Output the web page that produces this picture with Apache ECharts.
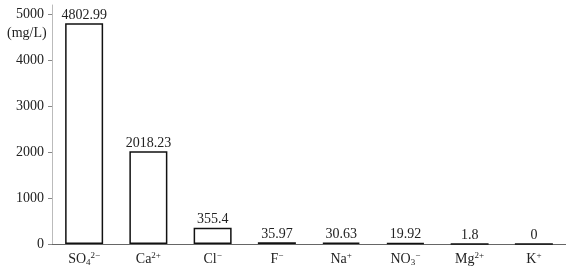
<!DOCTYPE html>
<html><head><meta charset="utf-8">
<script src="https://cdn.jsdelivr.net/npm/echarts@6/dist/echarts.min.js"></script>
<style>html,body{margin:0;padding:0;background:#fff}#c{width:566px;height:270px}</style>
</head><body><div id="c"></div>
<script>
var categories = ['SO4', 'Ca', 'Cl', 'F', 'Na', 'NO3', 'Mg', 'K'];
var categoryLabels = ['SO{sub|4}{sup|2−}', 'Ca{sup|2+}', 'Cl{sup|−}', 'F{sup|−}', 'Na{sup|+}', 'NO{sub|3}{sup|−}', 'Mg{sup|2+}', 'K{sup|+}'];
var values = [4802.99, 2018.23, 355.4, 35.97, 30.63, 19.92, 1.8, 0];
var valueLabels = ['4802.99', '2018.23', '355.4', '35.97', '30.63', '19.92', '1.8', '0'];
var yTicks = [0, 1000, 2000, 3000, 4000, 5000];

var font = '"Liberation Serif", "DejaVu Serif", serif';
var chart = echarts.init(document.getElementById('c'));
chart.setOption({
  animation: false,
  grid: { left: 52, right: 0, top: 5, bottom: 26 },
  graphic: [{ type: 'text', left: 7, top: 26, style: { text: '(mg/L)', font: '14px ' + font, fill: '#222' } }],
  xAxis: {
    type: 'category', data: categories,
    axisLine: { lineStyle: { color: '#666', width: 1 } },
    axisTick: { alignWithLabel: true, inside: true, length: 4, lineStyle: { color: '#666' } },
    axisLabel: {
      interval: 0, margin: 7, color: '#222', fontFamily: font, fontSize: 14,
      formatter: function (v, i) { return categoryLabels[i]; },
      rich: {
        sub: { fontSize: 9, fontFamily: font, color: '#222', verticalAlign: 'bottom', padding: [7, 0, 0, 0] },
        sup: { fontSize: 9, fontFamily: font, color: '#222', verticalAlign: 'top', padding: [0, 0, 7, 0] }
      }
    }
  },
  yAxis: {
    type: 'value', min: 0, max: 5200, interval: 1000,
    axisLine: { show: true, lineStyle: { color: '#bbb' } },
    axisTick: { show: true, length: 4, lineStyle: { color: '#888' }, customValues: yTicks },
    axisLabel: { color: '#222', fontFamily: font, fontSize: 14, margin: 8, customValues: yTicks,
      formatter: function (v) { return String(v); } },
    splitLine: { show: false }
  },
  series: [{
    type: 'bar', data: values, barWidth: 38,
    itemStyle: { color: '#fff', borderColor: '#111', borderWidth: 1.5 },
    label: {
      show: true, position: 'top', distance: 1, color: '#222', fontFamily: font, fontSize: 14,
      formatter: function (p) { return valueLabels[p.dataIndex]; }
    }
  }]
});
</script></body></html>
